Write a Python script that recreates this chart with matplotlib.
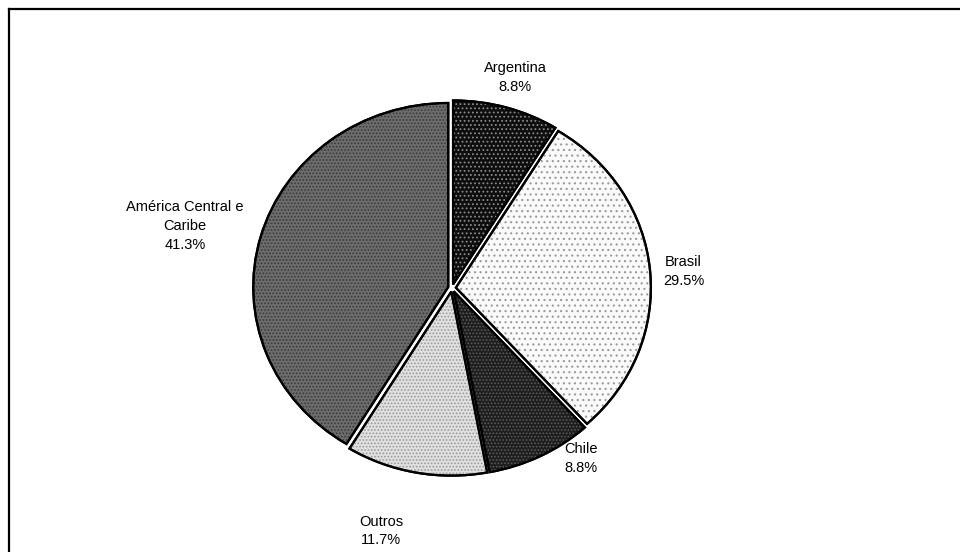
import numpy as np
import matplotlib
matplotlib.use("Agg")
import matplotlib.pyplot as plt
from matplotlib.patches import Wedge
from matplotlib.lines import Line2D

plt.rcParams['font.family'] = ['Liberation Sans', 'DejaVu Sans']
plt.rcParams['hatch.linewidth'] = 0.8

# dados
regioes = ['Argentina', 'Brasil', 'Chile', 'Outros', 'América Central e\nCaribe']
valores = [8.8, 29.5, 8.8, 11.7, 41.3]
rotulos = ['8.8%', '29.5%', '8.8%', '11.7%', '41.3%']

# estilo das fatias (imitando as texturas do Excel)
cores = ['#0e0e0e', '#fafafa', '#1e1e1e', '#e0e0e0', '#6c6c6c']
hatches = ['....', '...', '.....', '.....', '.....']
hatch_cores = ['#8a8a8a', '#9a9a9a', '#5a5a5a', '#9a9a9a', '#3a3a3a']
dist_rot = [1.19, 1.19, 1.14, 1.37, 1.41]
desvio_ang = [0, -1, 9, -5, 2]

fig = plt.figure(figsize=(9.6, 5.52), dpi=100)
ax = fig.add_axes([0, 0, 1, 1])

wedges, _ = ax.pie(valores, startangle=90, counterclock=False,
                   colors=cores, explode=[0.02] * 5,
                   wedgeprops=dict(edgecolor='black', linewidth=1.6))

for w, h, hc in zip(wedges, hatches, hatch_cores):
    hp = Wedge(w.center, w.r, w.theta1, w.theta2, facecolor='none',
               edgecolor=hc, hatch=h, linewidth=0, zorder=w.get_zorder() + 0.1)
    ax.add_patch(hp)
    # contorno por cima
    ol = Wedge(w.center, w.r, w.theta1, w.theta2, facecolor='none',
               edgecolor='black', linewidth=1.6, zorder=w.get_zorder() + 0.2)
    ax.add_patch(ol)

for w, reg, rot, d, da in zip(wedges, regioes, rotulos, dist_rot, desvio_ang):
    ang = np.deg2rad((w.theta1 + w.theta2) / 2 + da)
    x = d * np.cos(ang)
    y = d * np.sin(ang)
    ax.text(x, y, reg + '\n' + rot, ha='center', va='center',
            fontsize=10.5, linespacing=1.45, color='black')

# escala eliptica como no original
ax.set_aspect('auto')
ax.set_xlim(-452 / 195, (960 - 452) / 195)
ax.set_ylim(-264 / 184, 288 / 184)
ax.axis('off')

# moldura (só topo e esquerda visíveis)
fig.add_artist(Line2D([8.5 / 960, 1], [1 - 8.5 / 552, 1 - 8.5 / 552],
                      transform=fig.transFigure, color='black', linewidth=1.6))
fig.add_artist(Line2D([8.5 / 960, 8.5 / 960], [0, 1 - 8.5 / 552],
                      transform=fig.transFigure, color='black', linewidth=1.6))

fig.savefig('out.png', dpi=100, facecolor='white')
